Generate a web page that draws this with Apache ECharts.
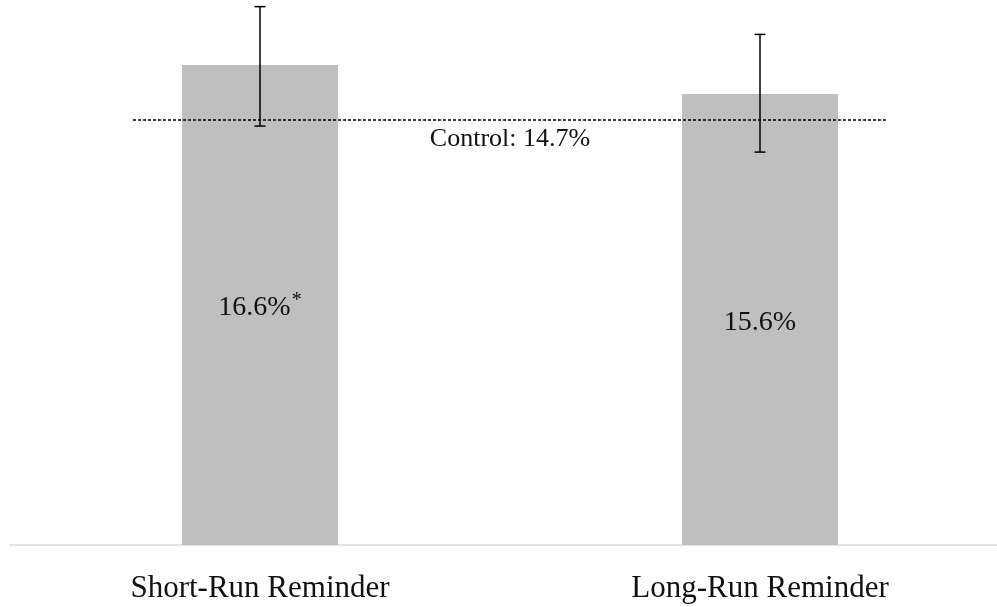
<!DOCTYPE html>
<html>
<head>
<meta charset="utf-8">
<script src="https://cdn.jsdelivr.net/npm/echarts@6/dist/echarts.min.js"></script>
<style>html,body{margin:0;padding:0;background:#fff;}#c{width:997px;height:607px;}</style>
</head>
<body>
<div id="c"></div>
<script>
var categories = ['Short-Run Reminder', 'Long-Run Reminder'];
var values = [16.6, 15.6];
var significance = ['*', ''];
var errLow = [14.49, 13.59];
var errHigh = [18.62, 17.66];
var control = 14.7;
var controlExtent = [-0.254, 1.254];

var FONT = '"Liberation Serif", "DejaVu Serif", serif';
var chart = echarts.init(document.getElementById('c'));

var errData = categories.map(function (c, i) { return [i, errLow[i], errHigh[i]]; });

chart.setOption({
  animation: false,
  backgroundColor: '#fff',
  grid: { left: 10, right: -13, top: 0, bottom: 62, containLabel: false, outerBoundsMode: 'none' },
  xAxis: [
    {
      type: 'category', data: categories,
      axisLine: { lineStyle: { color: '#dadada', width: 1.5 } },
      axisTick: { show: false },
      axisLabel: { fontFamily: FONT, fontSize: 31, color: '#111', margin: 28 }
    },
    { type: 'value', min: -0.5, max: 1.5, show: false }
  ],
  yAxis: { type: 'value', min: 0, max: 18.85, show: false },
  series: [
    {
      type: 'bar', data: values, barWidth: '31.2%',
      itemStyle: { color: '#bfbfbf' },
      label: {
        show: true, position: 'inside', offset: [0, 3],
        formatter: function (p) {
          var s = significance[p.dataIndex];
          return '{a|' + p.value.toFixed(1) + '%}' + (s ? '{s|' + s + '}' : '');
        },
        rich: {
          a: { fontFamily: FONT, fontSize: 28, color: '#111' },
          s: { fontFamily: FONT, fontSize: 20, color: '#111', verticalAlign: 'top', padding: [0, 0, 14, 1] }
        }
      }
    },
    {
      type: 'custom', data: errData, z: 5,
      encode: { x: 0, y: [1, 2] },
      renderItem: function (params, api) {
        var lo = api.coord([api.value(0), api.value(1)]);
        var hi = api.coord([api.value(0), api.value(2)]);
        var w = 5.5;
        var st = { stroke: '#000', lineWidth: 1.5 };
        return {
          type: 'group', children: [
            { type: 'line', shape: { x1: hi[0], y1: hi[1], x2: lo[0], y2: lo[1] }, style: st },
            { type: 'line', shape: { x1: hi[0] - w, y1: hi[1], x2: hi[0] + w, y2: hi[1] }, style: st },
            { type: 'line', shape: { x1: lo[0] - w, y1: lo[1], x2: lo[0] + w, y2: lo[1] }, style: st }
          ]
        };
      }
    },
    {
      type: 'line', xAxisIndex: 1, z: 4,
      data: [[controlExtent[0], control], [controlExtent[1], control]],
      showSymbol: false, symbol: 'none',
      lineStyle: { color: '#000', width: 1.3, type: [3, 2] },
      markLine: {
        silent: true, symbol: 'none',
        lineStyle: { color: 'rgba(0,0,0,0)', width: 0 },
        label: {
          show: true,
          position: 'insideMiddleBottom', distance: 6,
          formatter: 'Control: ' + control.toFixed(1) + '%',
          fontFamily: FONT, fontSize: 26, color: '#111'
        },
        data: [[{ coord: [controlExtent[0], control] }, { coord: [controlExtent[1], control] }]]
      }
    }
  ]
});
</script>
</body>
</html>
